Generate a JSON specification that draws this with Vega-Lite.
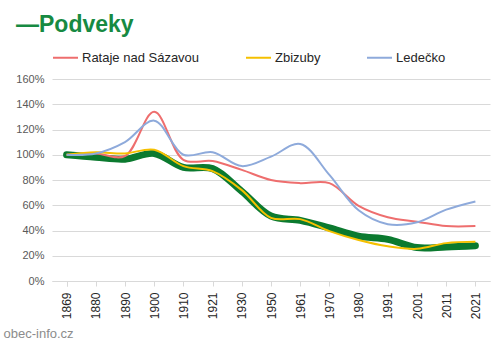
{
  "$schema": "https://vega.github.io/schema/vega-lite/v6.json",
  "width": 438,
  "height": 202,
  "autosize": {"type": "none"},
  "padding": {"left": 52, "top": 79, "right": 2, "bottom": 62},
  "background": "white",
  "config": {"view": {"stroke": null}, "font": "Liberation Sans"},
  "title": {
    "text": "—Podveky",
    "anchor": "start",
    "frame": "group",
    "dx": -36,
    "offset": 7,
    "fontSize": 23,
    "fontWeight": "bold",
    "color": "#178a42",
    "font": "Liberation Sans"
  },
  "data": {
    "values": [
      {"rok": "1869", "obec": "Podveky", "p": 100},
      {"rok": "1880", "obec": "Podveky", "p": 98},
      {"rok": "1890", "obec": "Podveky", "p": 96.5},
      {"rok": "1900", "obec": "Podveky", "p": 101},
      {"rok": "1910", "obec": "Podveky", "p": 90},
      {"rok": "1921", "obec": "Podveky", "p": 89},
      {"rok": "1930", "obec": "Podveky", "p": 71},
      {"rok": "1950", "obec": "Podveky", "p": 51.5},
      {"rok": "1961", "obec": "Podveky", "p": 48},
      {"rok": "1970", "obec": "Podveky", "p": 42},
      {"rok": "1980", "obec": "Podveky", "p": 35.5},
      {"rok": "1991", "obec": "Podveky", "p": 33},
      {"rok": "2001", "obec": "Podveky", "p": 26.5},
      {"rok": "2011", "obec": "Podveky", "p": 27},
      {"rok": "2021", "obec": "Podveky", "p": 28},
      {"rok": "1869", "obec": "Rataje nad Sázavou", "p": 100},
      {"rok": "1880", "obec": "Rataje nad Sázavou", "p": 101},
      {"rok": "1890", "obec": "Rataje nad Sázavou", "p": 99},
      {"rok": "1900", "obec": "Rataje nad Sázavou", "p": 134},
      {"rok": "1910", "obec": "Rataje nad Sázavou", "p": 96},
      {"rok": "1921", "obec": "Rataje nad Sázavou", "p": 95},
      {"rok": "1930", "obec": "Rataje nad Sázavou", "p": 88},
      {"rok": "1950", "obec": "Rataje nad Sázavou", "p": 80},
      {"rok": "1961", "obec": "Rataje nad Sázavou", "p": 77.5},
      {"rok": "1970", "obec": "Rataje nad Sázavou", "p": 77.5},
      {"rok": "1980", "obec": "Rataje nad Sázavou", "p": 59.5},
      {"rok": "1991", "obec": "Rataje nad Sázavou", "p": 50.5},
      {"rok": "2001", "obec": "Rataje nad Sázavou", "p": 47},
      {"rok": "2011", "obec": "Rataje nad Sázavou", "p": 43.5},
      {"rok": "2021", "obec": "Rataje nad Sázavou", "p": 43.5},
      {"rok": "1869", "obec": "Zbizuby", "p": 100},
      {"rok": "1880", "obec": "Zbizuby", "p": 102},
      {"rok": "1890", "obec": "Zbizuby", "p": 101},
      {"rok": "1900", "obec": "Zbizuby", "p": 104},
      {"rok": "1910", "obec": "Zbizuby", "p": 91},
      {"rok": "1921", "obec": "Zbizuby", "p": 87},
      {"rok": "1930", "obec": "Zbizuby", "p": 72},
      {"rok": "1950", "obec": "Zbizuby", "p": 50},
      {"rok": "1961", "obec": "Zbizuby", "p": 49},
      {"rok": "1970", "obec": "Zbizuby", "p": 39.5},
      {"rok": "1980", "obec": "Zbizuby", "p": 32.5},
      {"rok": "1991", "obec": "Zbizuby", "p": 27.5},
      {"rok": "2001", "obec": "Zbizuby", "p": 25.5},
      {"rok": "2011", "obec": "Zbizuby", "p": 30},
      {"rok": "2021", "obec": "Zbizuby", "p": 31},
      {"rok": "1869", "obec": "Ledečko", "p": 100},
      {"rok": "1880", "obec": "Ledečko", "p": 101},
      {"rok": "1890", "obec": "Ledečko", "p": 110},
      {"rok": "1900", "obec": "Ledečko", "p": 127},
      {"rok": "1910", "obec": "Ledečko", "p": 100},
      {"rok": "1921", "obec": "Ledečko", "p": 102},
      {"rok": "1930", "obec": "Ledečko", "p": 91},
      {"rok": "1950", "obec": "Ledečko", "p": 98.5},
      {"rok": "1961", "obec": "Ledečko", "p": 108.5},
      {"rok": "1970", "obec": "Ledečko", "p": 84},
      {"rok": "1980", "obec": "Ledečko", "p": 56},
      {"rok": "1991", "obec": "Ledečko", "p": 45},
      {"rok": "2001", "obec": "Ledečko", "p": 46.5},
      {"rok": "2011", "obec": "Ledečko", "p": 56.5},
      {"rok": "2021", "obec": "Ledečko", "p": 63}
    ]
  },
  "encoding": {
    "x": {
      "field": "rok",
      "type": "ordinal",
      "scale": {"type": "point", "padding": 0.5},
      "axis": {
        "labelAngle": 270,
        "labelFontSize": 12,
        "labelColor": "#262626",
        "labelPadding": 6,
        "domainColor": "#d9d9d9",
        "tickColor": "#d9d9d9",
        "tickSize": 5,
        "tickBand": "extent",
        "grid": false,
        "title": "obec-info.cz",
        "titleAnchor": "start",
        "titleAlign": "left",
        "titleX": -49,
        "titleY": 46,
        "titleFontSize": 13,
        "titleFontWeight": "normal",
        "titleColor": "#8c8c8c"
      }
    },
    "y": {
      "field": "p",
      "type": "quantitative",
      "scale": {"domain": [0, 160], "nice": false},
      "axis": {
        "values": [0, 20, 40, 60, 80, 100, 120, 140, 160],
        "labelExpr": "datum.value + '%'",
        "labelFontSize": 11,
        "labelColor": "#595959",
        "labelPadding": 8,
        "domain": false,
        "ticks": false,
        "gridColor": "#d9d9d9",
        "title": null
      }
    }
  },
  "layer": [
    {
      "transform": [{"filter": "datum.obec === 'Podveky'"}],
      "mark": {"type": "line", "interpolate": "catmull-rom", "strokeWidth": 7, "color": "#0b7a2f", "strokeCap": "round"}
    },
    {
      "transform": [{"filter": "datum.obec !== 'Podveky'"}],
      "mark": {"type": "line", "interpolate": "catmull-rom", "strokeWidth": 2},
      "encoding": {
        "color": {
          "field": "obec",
          "type": "nominal",
          "scale": {
            "domain": ["Rataje nad Sázavou", "Zbizuby", "Ledečko"],
            "range": ["#ee6e6e", "#f5c000", "#8eaadb"]
          },
          "legend": {
            "orient": "none",
            "legendX": 0,
            "legendY": -35,
            "direction": "horizontal",
            "title": null,
            "symbolType": "stroke",
            "symbolSize": 625,
            "symbolStrokeWidth": 2,
            "labelFontSize": 13,
            "labelColor": "#262626",
            "labelOffset": 3,
            "columnPadding": 42
          }
        }
      }
    }
  ]
}
